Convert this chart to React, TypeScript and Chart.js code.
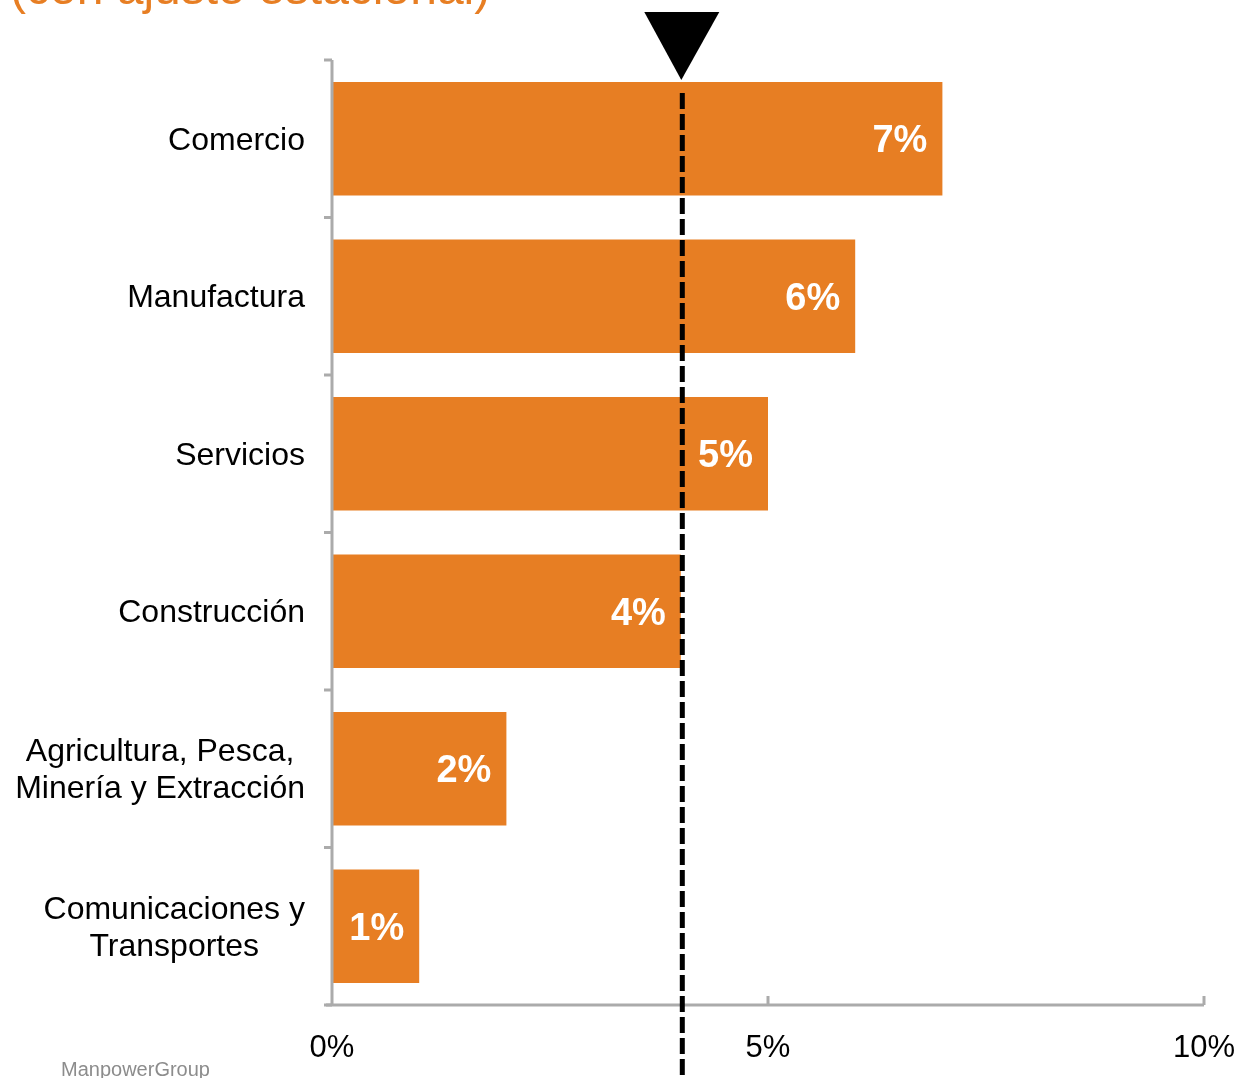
import React, { useEffect, useRef } from "react";
import { Chart, registerables } from "chart.js";

Chart.register(...registerables);

const categories: string[][] = [
  ["Comercio"],
  ["Manufactura"],
  ["Servicios"],
  ["Construcción"],
  ["Agricultura, Pesca,", "Minería y Extracción"],
  ["Comunicaciones y", "Transportes"],
];
const values: number[] = [7, 6, 5, 4, 2, 1];
const averageValue = 4;
const xTicks: number[] = [0, 5, 10];
const titleText = "(con ajuste estacional)";
const sourceText = "ManpowerGroup";

const ORANGE = "#E77E23";
const AXIS_GRAY = "#ABABAB";
const FONT = "'Liberation Sans', Arial, sans-serif";

const overlayPlugin = {
  id: "overlay",
  afterDraw(chart: any) {
    const ctx = chart.ctx as CanvasRenderingContext2D;
    const x = chart.scales.x;
    const y = chart.scales.y;
    const area = chart.chartArea;
    ctx.save();

    // axis lines
    ctx.strokeStyle = AXIS_GRAY;
    ctx.lineWidth = 3;
    ctx.beginPath();
    ctx.moveTo(area.left, area.top);
    ctx.lineTo(area.left, area.bottom);
    ctx.moveTo(area.left - 6, area.bottom);
    ctx.lineTo(area.right, area.bottom);
    ctx.stroke();

    // y ticks (category boundaries, outward)
    const step = y.getPixelForValue(1) - y.getPixelForValue(0);
    ctx.beginPath();
    for (let i = 0; i <= categories.length; i++) {
      const py = y.getPixelForValue(0) - step / 2 + i * step;
      ctx.moveTo(area.left - 8, py);
      ctx.lineTo(area.left, py);
    }
    ctx.stroke();

    // x ticks inward (upward)
    ctx.beginPath();
    xTicks.forEach((t) => {
      if (t === 0) return;
      const px = x.getPixelForValue(t);
      ctx.moveTo(px, area.bottom);
      ctx.lineTo(px, area.bottom - 9);
    });
    ctx.stroke();

    // category labels: block right-aligned, lines centered
    ctx.fillStyle = "#000";
    ctx.font = `32px ${FONT}`;
    ctx.textBaseline = "middle";
    ctx.textAlign = "center";
    const lineH = 37;
    const rightEdge = area.left - 27;
    categories.forEach((lines, i) => {
      const cy = y.getPixelForValue(i) + 2;
      const w = Math.max(...lines.map((l) => ctx.measureText(l).width));
      const cx = rightEdge - w / 2;
      lines.forEach((l, j) => {
        const ly = cy + (j - (lines.length - 1) / 2) * lineH;
        ctx.fillText(l, cx, ly);
      });
    });

    // data labels
    ctx.fillStyle = "#fff";
    ctx.font = `bold 38px ${FONT}`;
    ctx.textAlign = "right";
    const meta = chart.getDatasetMeta(0);
    meta.data.forEach((bar: any, i: number) => {
      ctx.fillText(values[i] + "%", bar.x - 15, bar.y + 3);
    });

    // average dashed line
    const ax = x.getPixelForValue(averageValue) + 1.5;
    ctx.strokeStyle = "#000";
    ctx.lineWidth = 5;
    ctx.setLineDash([16, 5]);
    ctx.beginPath();
    ctx.moveTo(ax, 93);
    ctx.lineTo(ax, chart.height);
    ctx.stroke();
    ctx.setLineDash([]);

    // triangle marker
    ctx.fillStyle = "#000";
    ctx.beginPath();
    ctx.moveTo(ax - 38, 12);
    ctx.lineTo(ax + 37, 12);
    ctx.lineTo(ax - 1, 80);
    ctx.closePath();
    ctx.fill();

    // title (cut off at top)
    ctx.fillStyle = ORANGE;
    ctx.font = `48px ${FONT}`;
    ctx.textAlign = "left";
    ctx.textBaseline = "alphabetic";
    ctx.fillText(titleText, 10, 4);

    // source
    ctx.fillStyle = "#8C8C8C";
    ctx.font = `20px ${FONT}`;
    ctx.fillText(sourceText, 61, 1076);

    ctx.restore();
  },
};

export default function App() {
  const ref = useRef<HTMLCanvasElement | null>(null);
  useEffect(() => {
    if (!ref.current) return;
    const chart = new Chart(ref.current, {
      type: "bar",
      data: {
        labels: categories.map((c) => c.join(" ")),
        datasets: [
          {
            data: values,
            backgroundColor: ORANGE,
            borderWidth: 0,
            categoryPercentage: 1,
            barPercentage: 0.72,
          },
        ],
      },
      options: {
        indexAxis: "y",
        animation: false,
        responsive: true,
        maintainAspectRatio: false,
        layout: { padding: { left: 0, right: 35, top: 60, bottom: 0 } },
        plugins: {
          legend: { display: false },
          tooltip: { enabled: false },
          title: { display: false },
        },
        scales: {
          x: {
            min: 0,
            max: 10,
            afterBuildTicks: (scale: any) => {
              scale.ticks = xTicks.map((v) => ({ value: v }));
            },
            afterFit: (scale: any) => {
              scale.height = 73;
              scale.paddingLeft = 0;
              scale.paddingRight = 0;
            },
            grid: { display: false, drawTicks: false },
            border: { display: false },
            ticks: {
              padding: 25,
              color: "#000",
              font: { family: FONT, size: 31 },
              callback: (v: any) => v + "%",
            },
          },
          y: {
            afterFit: (scale: any) => {
              scale.width = 332;
            },
            grid: { display: false, drawTicks: false },
            border: { display: false },
            ticks: { display: false },
          },
        },
      },
      plugins: [overlayPlugin],
    });
    return () => chart.destroy();
  }, []);
  return (
    <div style={{ position: "fixed", left: 0, top: 0, width: 1239, height: 1078, background: "#fff" }}>
      <canvas ref={ref} />
    </div>
  );
}
